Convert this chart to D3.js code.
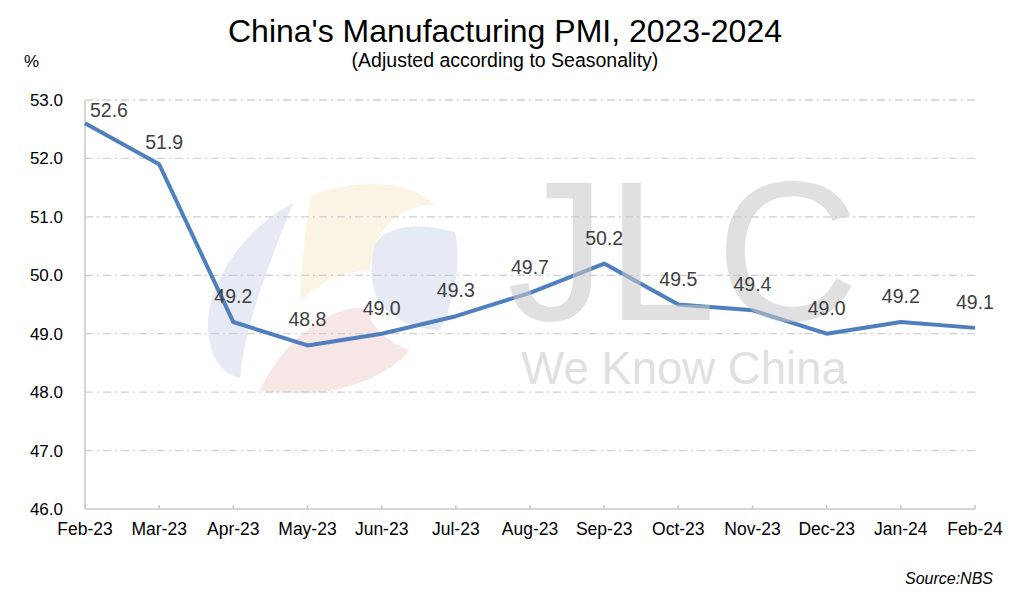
<!DOCTYPE html>
<meta charset="utf-8">
<head>
  <title>China PMI</title>
</head>
<style>
body { margin:0; background:#fff; font-family: Arial, "Liberation Sans", sans-serif; }
</style>
<body>
<script src="https://d3js.org/d3.v7.min.js"></script>
<script>

// data
var months = ["Feb-23","Mar-23","Apr-23","May-23","Jun-23","Jul-23","Aug-23","Sep-23","Oct-23","Nov-23","Dec-23","Jan-24","Feb-24"];
var pmi = [52.6, 51.9, 49.2, 48.8, 49.0, 49.3, 49.7, 50.2, 49.5, 49.4, 49.0, 49.2, 49.1];
var yTicks = [46, 47, 48, 49, 50, 51, 52, 53];

var W = 1013, H = 599;
var margin = {left:85, right:38, top:100, bottom:90};

var svg = d3.select("body").append("svg")
    .attr("width", W)
    .attr("height", H);

var x = d3.scalePoint().domain(months).range([margin.left, W - margin.right]);
var y = d3.scaleLinear().domain([46, 53]).range([H - margin.bottom, margin.top]);

// title
svg.append("text")
   .attr("x", 505).attr("y", 42)
   .attr("text-anchor", "middle")
   .attr("font-size", 32)
   .attr("fill", "#000")
   .text("China's Manufacturing PMI, 2023-2024");

svg.append("text")
   .attr("x", 505).attr("y", 67)
   .attr("text-anchor", "middle")
   .attr("font-size", 19.5)
   .attr("fill", "#000")
   .text("(Adjusted according to Seasonality)");

svg.append("text")
   .attr("x", 24).attr("y", 67)
   .attr("font-size", 17)
   .attr("fill", "#000")
   .text("%");

// logo watermark (drawn behind)
var logo = svg.append("g");
logo.append("path")
    .attr("d", "M293,203 C250,225 205,280 208,330 C210,360 225,375 240,378 C245,320 275,250 293,203 Z")
    .attr("fill", "#e6eaf4");
logo.append("path")
    .attr("d", "M312,195 C360,178 410,180 435,205 C400,205 375,225 370,270 C345,272 320,280 300,302 C302,260 305,225 312,195 Z")
    .attr("fill", "#fbf4e4");
logo.append("path")
    .attr("d", "M375,245 C385,225 420,222 455,232 C462,260 455,300 440,330 C420,330 390,320 378,300 C370,285 370,262 375,245 Z")
    .attr("fill", "#e6eaf4");
logo.append("path")
    .attr("d", "M260,390 C275,360 300,325 345,310 C365,305 375,310 370,318 C378,335 395,345 410,350 C390,375 340,395 300,393 C280,393 268,392 260,390 Z")
    .attr("fill", "#f7e6e6");

// gridlines
svg.append("g")
   .selectAll("line")
   .data(yTicks.filter(function(d){return d > 46;}))
   .enter()
   .append("line")
   .attr("x1", margin.left).attr("x2", W - margin.right)
   .attr("y1", function(d){return y(d);})
   .attr("y2", function(d){return y(d);})
   .attr("stroke", "#d0d0d0")
   .attr("stroke-width", 1.3)
   .attr("stroke-dasharray", "8,4,2,4");

// y axis labels
svg.append("g")
   .selectAll("text")
   .data(yTicks)
   .enter()
   .append("text")
   .attr("x", 63)
   .attr("y", function(d){return y(d) + 6;})
   .attr("text-anchor", "end")
   .attr("font-size", 17)
   .attr("fill", "#000")
   .text(function(d){return d.toFixed(1);});

// axes lines
svg.append("line")
   .attr("x1", margin.left).attr("x2", margin.left)
   .attr("y1", y(53)).attr("y2", y(46))
   .attr("stroke", "#c8c8c8").attr("stroke-width", 1.5);
svg.append("line")
   .attr("x1", margin.left).attr("x2", W - margin.right)
   .attr("y1", y(46)).attr("y2", y(46))
   .attr("stroke", "#c8c8c8").attr("stroke-width", 1.5);

// x ticks
svg.append("g")
   .selectAll("line")
   .data(months)
   .enter()
   .append("line")
   .attr("x1", function(d){return x(d);})
   .attr("x2", function(d){return x(d);})
   .attr("y1", y(46)).attr("y2", y(46) - 4)
   .attr("stroke", "#c8c8c8").attr("stroke-width", 1.5);

svg.append("g")
   .selectAll("text")
   .data(months)
   .enter()
   .append("text")
   .attr("x", function(d){return x(d);})
   .attr("y", y(46) + 26)
   .attr("text-anchor", "middle")
   .attr("font-size", 17.5)
   .attr("fill", "#000")
   .text(function(d){return d;});

// the line
var valueline = d3.line()
    .x(function(d, i){return x(months[i]);})
    .y(function(d){return y(d);});

svg.append("path")
   .datum(pmi)
   .attr("d", valueline)
   .attr("fill", "none")
   .attr("stroke", "#4f7fbe")
   .attr("stroke-width", 4)
   .attr("stroke-linejoin", "round");

// JLC watermark text, over the line
var wm = svg.append("g").attr("opacity", 0.55);
wm.append("text")
  .attr("x", 683).attr("y", 320)
  .attr("text-anchor", "middle")
  .attr("font-size", 198)
  .attr("fill", "#c8c8c8")
  .text("JLC");
wm.append("text")
  .attr("x", 684).attr("y", 384)
  .attr("text-anchor", "middle")
  .attr("font-size", 45.5)
  .attr("fill", "#c8c8c8")
  .text("We Know China");

// data labels (on top of watermark)
svg.append("g")
   .selectAll("text")
   .data(pmi)
   .enter()
   .append("text")
   .attr("x", function(d, i){return i == 0 ? x(months[i]) + 24 : (i == 1 ? x(months[i]) + 5 : x(months[i]));})
   .attr("y", function(d, i){return i == 0 ? y(d) - 6 : (i == 1 ? y(d) - 15 : y(d) - 19);})
   .attr("text-anchor", "middle")
   .attr("font-size", 19.5)
   .attr("fill", "#404040")
   .text(function(d){return d.toFixed(1);});

// source
svg.append("text")
   .attr("x", 993).attr("y", 584)
   .attr("text-anchor", "end")
   .attr("font-size", 16)
   .attr("font-style", "italic")
   .attr("fill", "#000")
   .text("Source:NBS");

</script>
</body>
